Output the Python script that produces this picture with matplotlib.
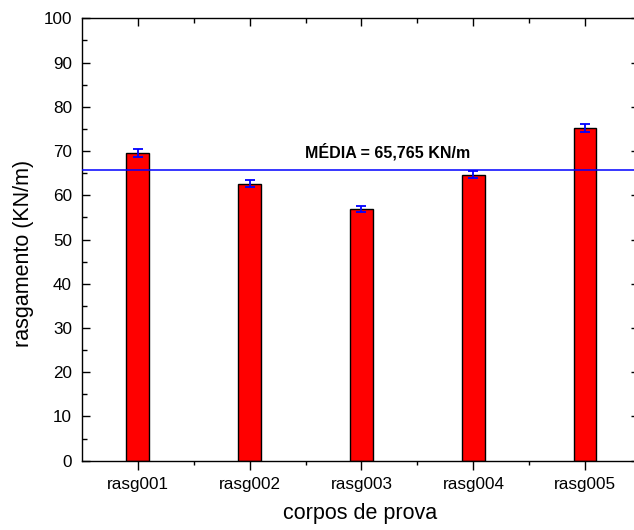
import numpy as np
import matplotlib.pyplot as plt
from matplotlib.ticker import MultipleLocator, FixedLocator

plt.rcParams['font.family'] = ['Liberation Sans', 'DejaVu Sans']

amostras = ['rasg001', 'rasg002', 'rasg003', 'rasg004', 'rasg005']
rasgamento = [69.5, 62.6, 56.9, 64.6, 75.2]
desvio = [0.9, 0.8, 0.7, 0.8, 1.0]
media = 65.765
texto_media = 'MÉDIA = 65,765 KN/m'

fig = plt.figure(figsize=(6.34, 5.30), dpi=100)
ax = fig.add_axes([81.7 / 634, 69.3 / 530, (639 - 81.7) / 634, 442.4 / 530])

x = np.arange(1, len(amostras) + 1)
ax.bar(x, rasgamento, width=0.2, color='#ff0000', edgecolor='black',
       linewidth=1.0, zorder=2)
ax.errorbar(x, rasgamento, yerr=desvio, fmt='none', ecolor='#0000ff',
            elinewidth=1.3, capsize=3.6, capthick=1.3, zorder=3)
ax.axhline(media, color='#0000ff', linewidth=1.1, zorder=4)
ax.text(3.23, 68.6, texto_media, ha='center', va='baseline',
        fontsize=11.5, fontweight='bold')

ax.set_xlim(0.5, 5.48)
ax.set_ylim(0, 100)
ax.set_xticks(x)
ax.set_xticklabels(amostras)
ax.xaxis.set_minor_locator(FixedLocator(x[:-1] + 0.5))
ax.yaxis.set_major_locator(MultipleLocator(10))
ax.yaxis.set_minor_locator(MultipleLocator(5))

for s in ax.spines.values():
    s.set_linewidth(1.0)

ax.tick_params(axis='x', which='major', direction='out', length=6.5, width=1.0,
               labelsize=12.3, pad=5.5, top=False)
ax.tick_params(axis='x', which='minor', direction='out', length=3, width=1.0, top=False)
ax.tick_params(axis='y', which='major', direction='in', length=6, width=1.0,
               labelsize=12.3, pad=7, right=True)
ax.tick_params(axis='y', which='minor', direction='in', length=3.5, width=1.0)

# ticks internos no eixo superior
sec = ax.secondary_xaxis('top')
sec.set_xticks(x)
sec.xaxis.set_minor_locator(FixedLocator(x[:-1] + 0.5))
sec.tick_params(which='major', direction='in', length=6, width=1.0, labeltop=False)
sec.tick_params(which='minor', direction='in', length=3.5, width=1.0)
sec.set_xticklabels([])
sec.spines['top'].set_visible(False)

ax.set_xlabel('corpos de prova', fontsize=15.5)
ax.set_ylabel('rasgamento (KN/m)', fontsize=15.5)
ax.xaxis.set_label_coords((360 - 81.7) / 557.3, -(514 - 460.7) / 442.4)
ax.yaxis.set_label_coords(-(81.7 - 24) / 557.3, (460.7 - 253.5) / 442.4)
ax.xaxis.label.set_va('center')
ax.yaxis.label.set_va('center')

fig.savefig('out.png', dpi=100)
